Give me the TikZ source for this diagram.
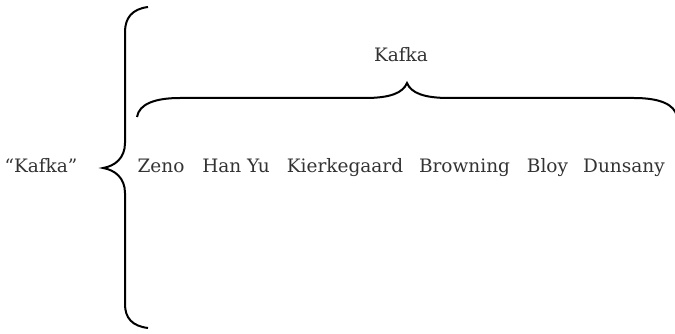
\documentclass[tikz,border=0pt]{standalone}
\usepackage{fontspec}
\setmainfont{DejaVu Serif}
\begin{document}
\begin{tikzpicture}[x=1pt,y=-1pt,
  lbl/.style={font=\fontsize{18.5}{21}\selectfont, text=black!80, inner sep=0pt, anchor=base},
  brace/.style={draw=black, line width=2pt}]
\useasboundingbox (0,0) rectangle (675,334);
\node[lbl] (q) at (41,172) {“Kafka”};
\node[lbl] (k) at (401,62) {Kafka};
\node[lbl] (zeno) at (161,172) {Zeno};
\node[lbl] (han) at (236,172) {Han Yu};
\node[lbl] (kier) at (345,172) {Kierkegaard};
\node[lbl] (brow) at (464.5,172) {Browning};
\node[lbl] (bloy) at (547.5,172) {Bloy};
\node[lbl] (duns) at (624,172) {Dunsany};
\coordinate (lt) at (148,7);
\coordinate (ltip) at (103,168);
\coordinate (lb) at (148,328);
\coordinate (tl) at (137,117);
\coordinate (ttip) at (407,83);
\coordinate (tr) at (677,117);
\begin{scope}
\clip (0,0) rectangle (675,334);
\draw[brace] (lt) .. controls (132,9) and (125,18) .. (125,32) -- (125,143)
  .. controls (125,158) and (115,166) .. (ltip)
  .. controls (115,170) and (125,178) .. (125,193) -- (125,304)
  .. controls (125,318) and (132,326) .. (lb);
\draw[brace] (tl) .. controls (139,104) and (155,98) .. (180,98) -- (365,98)
  .. controls (390,98) and (403,93) .. (ttip)
  .. controls (411,93) and (424,98) .. (449,98) -- (634,98)
  .. controls (659,98) and (675,104) .. (tr);
\end{scope}
\end{tikzpicture}
\end{document}
